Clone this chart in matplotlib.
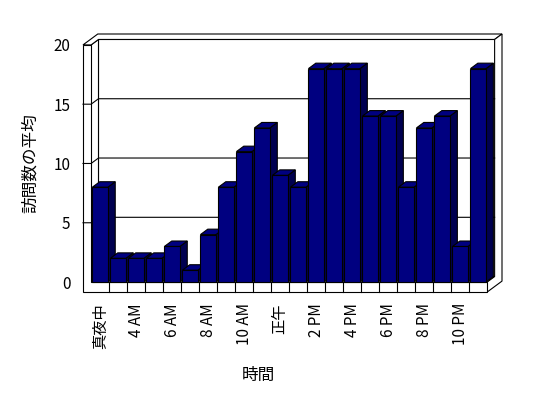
import matplotlib
matplotlib.use("Agg")
import matplotlib.pyplot as plt
from matplotlib.patches import Polygon

plt.rcParams['font.family'] = ['Noto Sans CJK JP', 'DejaVu Sans']

# data: average visits per hour slot (as shown in the chart)
values = [8, 2, 2, 2, 3, 1, 4, 8, 11, 13, 9, 8, 18, 18, 18, 14, 14, 8, 13, 14, 3, 18]
tick_pos = [0, 2, 4, 6, 8, 10, 12, 14, 16, 18, 20]
tick_labels = ['真夜中', '4 AM', '6 AM', '8 AM', '10 AM', '正午',
               '2 PM', '4 PM', '6 PM', '8 PM', '10 PM']
y_ticks = [0, 5, 10, 15, 20]

# --- 3D box geometry (data units) ---
L, R, H = -0.5, len(values) - 0.5, 20
wt, fb = 0.45, 0.84          # left wall thickness, floor thickness
dx, dy = 0.41, 0.46          # depth of the bar zone
tx, ty = 0.41, 0.46          # back wall thickness
bw = 0.86                    # bar front width

navy = '#000080'
navy_side = '#000050'
edge = 'black'
lw = 0.8

fig = plt.figure(figsize=(5.48, 3.98), dpi=100)
ax = fig.add_axes([83 / 548, 106 / 398, 419 / 548, 258 / 398])
ax.set_xlim(L - wt, R + dx + tx)
ax.set_ylim(-fb, H + dy + ty)
for s in ax.spines.values():
    s.set_visible(False)


def poly(pts, fc='white', z=1):
    ax.add_patch(Polygon(pts, closed=True, facecolor=fc, edgecolor=edge,
                         linewidth=lw, zorder=z, clip_on=False, joinstyle='miter'))


# back wall (inner face)
poly([(L + dx, dy), (R + dx, dy), (R + dx, H + dy), (L + dx, H + dy)], z=1)
# left wall inner face
poly([(L, 0), (L + dx, dy), (L + dx, H + dy), (L, H)], z=1)
# floor top
poly([(L, 0), (R, 0), (R + dx, dy), (L + dx, dy)], z=1)
# top of the walls
poly([(L - wt, H), (L, H), (L + dx, H + dy), (R + dx, H + dy),
      (R + dx + tx, H + dy + ty), (L - wt + dx + tx, H + dy + ty)], z=1)
# right side of back wall + floor
poly([(R + dx, H + dy), (R + dx + tx, H + dy + ty), (R + dx + tx, -fb + dy + ty),
      (R, -fb), (R, 0), (R + dx, dy)], z=1)
# front face of left wall + floor
poly([(L - wt, -fb), (R, -fb), (R, 0), (L, 0), (L, H), (L - wt, H)], z=2)

# gridlines wrapping from left wall to back wall
for v in y_ticks[1:-1]:
    ax.plot([L - wt, L, L + dx, R + dx], [v, v, v + dy, v + dy],
            color=edge, linewidth=lw, zorder=3, clip_on=False)

# floor dividers
for i in range(len(values) - 1):
    ax.plot([i + 0.5, i + 0.5], [-fb, 0], color=edge, linewidth=lw,
            zorder=3, clip_on=False)

# bars: front faces through ax.bar, side/top from the same values
bars = ax.bar(range(len(values)), values, width=bw, color=navy,
              edgecolor=edge, linewidth=lw)
for i, (p, v) in enumerate(zip(bars, values)):
    z = 10 + 2 * i
    x0, x1 = i - bw / 2, i + bw / 2
    poly([(x1, 0), (x1 + dx, dy), (x1 + dx, v + dy), (x1, v)], fc=navy_side, z=z)
    poly([(x0, v), (x1, v), (x1 + dx, v + dy), (x0 + dx, v + dy)], fc=navy, z=z)
    p.set_zorder(z + 1)
    p.set_clip_on(False)

ax.set_yticks(y_ticks)
ax.set_yticklabels([str(v) for v in y_ticks], fontsize=11)
ax.set_xticks(tick_pos)
ax.set_xticklabels(tick_labels, rotation=90, fontsize=11, va='top')
ax.tick_params(axis='y', length=0, pad=9)
ax.tick_params(axis='x', length=0, pad=8)

fig.text(30 / 548, 1 - 163 / 398, '訪問数の平均', rotation=90, fontsize=12,
         ha='center', va='center')
fig.text(258 / 548, 1 - 375 / 398, '時間', fontsize=12, ha='center', va='center')

fig.savefig('out.png', dpi=100, facecolor='white')
